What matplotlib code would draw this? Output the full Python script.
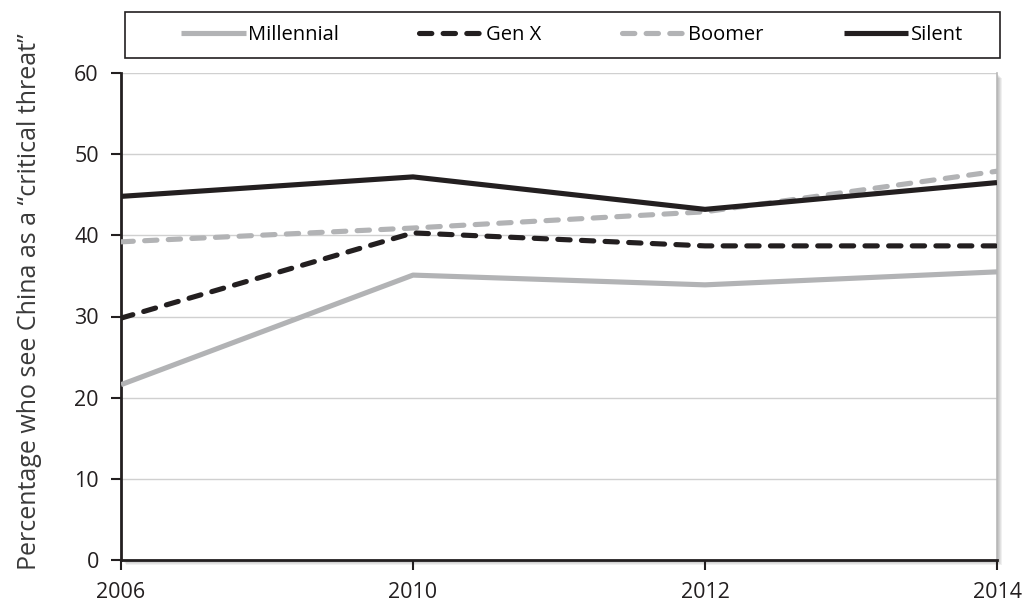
import matplotlib
matplotlib.use('Agg')
import matplotlib.pyplot as plt
from matplotlib.patches import Rectangle
import numpy as np

# Data
years = ['2006', '2010', '2012', '2014']
millennial = [21.6, 35.1, 33.9, 35.5]
gen_x = [29.8, 40.3, 38.7, 38.7]
boomer = [39.2, 40.9, 42.9, 47.9]
silent = [44.8, 47.2, 43.2, 46.5]

plt.rcParams['font.family'] = ['Open Sans', 'DejaVu Sans']

W, H = 1029, 603
fig = plt.figure(figsize=(W / 100, H / 100), dpi=100)
x0, x1, y0, y1 = 121, 997, 560, 73   # plot area in pixels
ax = fig.add_axes([x0 / W, 1 - y0 / H, (x1 - x0) / W, (y0 - y1) / H])

# soft shadow behind plot area
for k in range(1, 6):
    fig.patches.append(Rectangle(((x0 + k) / W, 1 - (y0 + k) / H), (x1 - x0) / W, (y0 - y1) / H,
                                 transform=fig.transFigure, facecolor='#000000', alpha=0.06,
                                 edgecolor='none', zorder=-1))

xs = np.arange(len(years))
lw = 3.7
ax.plot(xs, millennial, color='#b2b3b5', lw=lw, solid_capstyle='butt', label='Millennial', zorder=3)
ax.plot(xs, gen_x, color='#231f20', lw=lw, dashes=(2.4, 2.2), dash_capstyle='round', label='Gen X', zorder=4)
ax.plot(xs, boomer, color='#b2b3b5', lw=lw, dashes=(2.4, 2.2), dash_capstyle='round', label='Boomer', zorder=3)
ax.plot(xs, silent, color='#231f20', lw=lw, solid_capstyle='butt', label='Silent', zorder=4)

# Axes
ax.set_xlim(0, len(years) - 1)
ax.set_ylim(0, 60)
ax.set_xticks(xs)
ax.set_xticklabels(years)
ax.set_yticks(range(0, 61, 10))
ax.tick_params(axis='both', labelsize=15.5, colors='#231f20', width=1.5, length=7, direction='out')
ax.tick_params(axis='x', pad=9)
ax.tick_params(axis='y', pad=9)
ax.grid(axis='y', color='#d0d0d0', linewidth=1.0)
ax.set_axisbelow(True)
ax.spines['top'].set_visible(False)
ax.spines['right'].set_color('#b8b8b8')
ax.spines['right'].set_linewidth(1.2)
for s in ['left', 'bottom']:
    ax.spines[s].set_color('#231f20')
    ax.spines[s].set_linewidth(2.0)
ax.set_ylabel('Percentage who see China as a \u201ccritical threat\u201d', fontsize=18, color='#3a3a3a')
ax.yaxis.set_label_coords(-0.090, 0.53)

# Legend: frame drawn separately so items stay centred
fig.patches.append(Rectangle((125 / W, 1 - 58 / H), 875 / W, 46 / H, transform=fig.transFigure,
                             facecolor='white', edgecolor='#231f20', linewidth=1.2, zorder=1))
leg = fig.legend(loc='center', bbox_to_anchor=(0.556, 1 - 35 / H), ncol=4, fontsize=14.5,
                 frameon=False, handlelength=3.2, handletextpad=0.1, columnspacing=4.0)
leg.set_zorder(2)

fig.savefig('out.png', dpi=100)
